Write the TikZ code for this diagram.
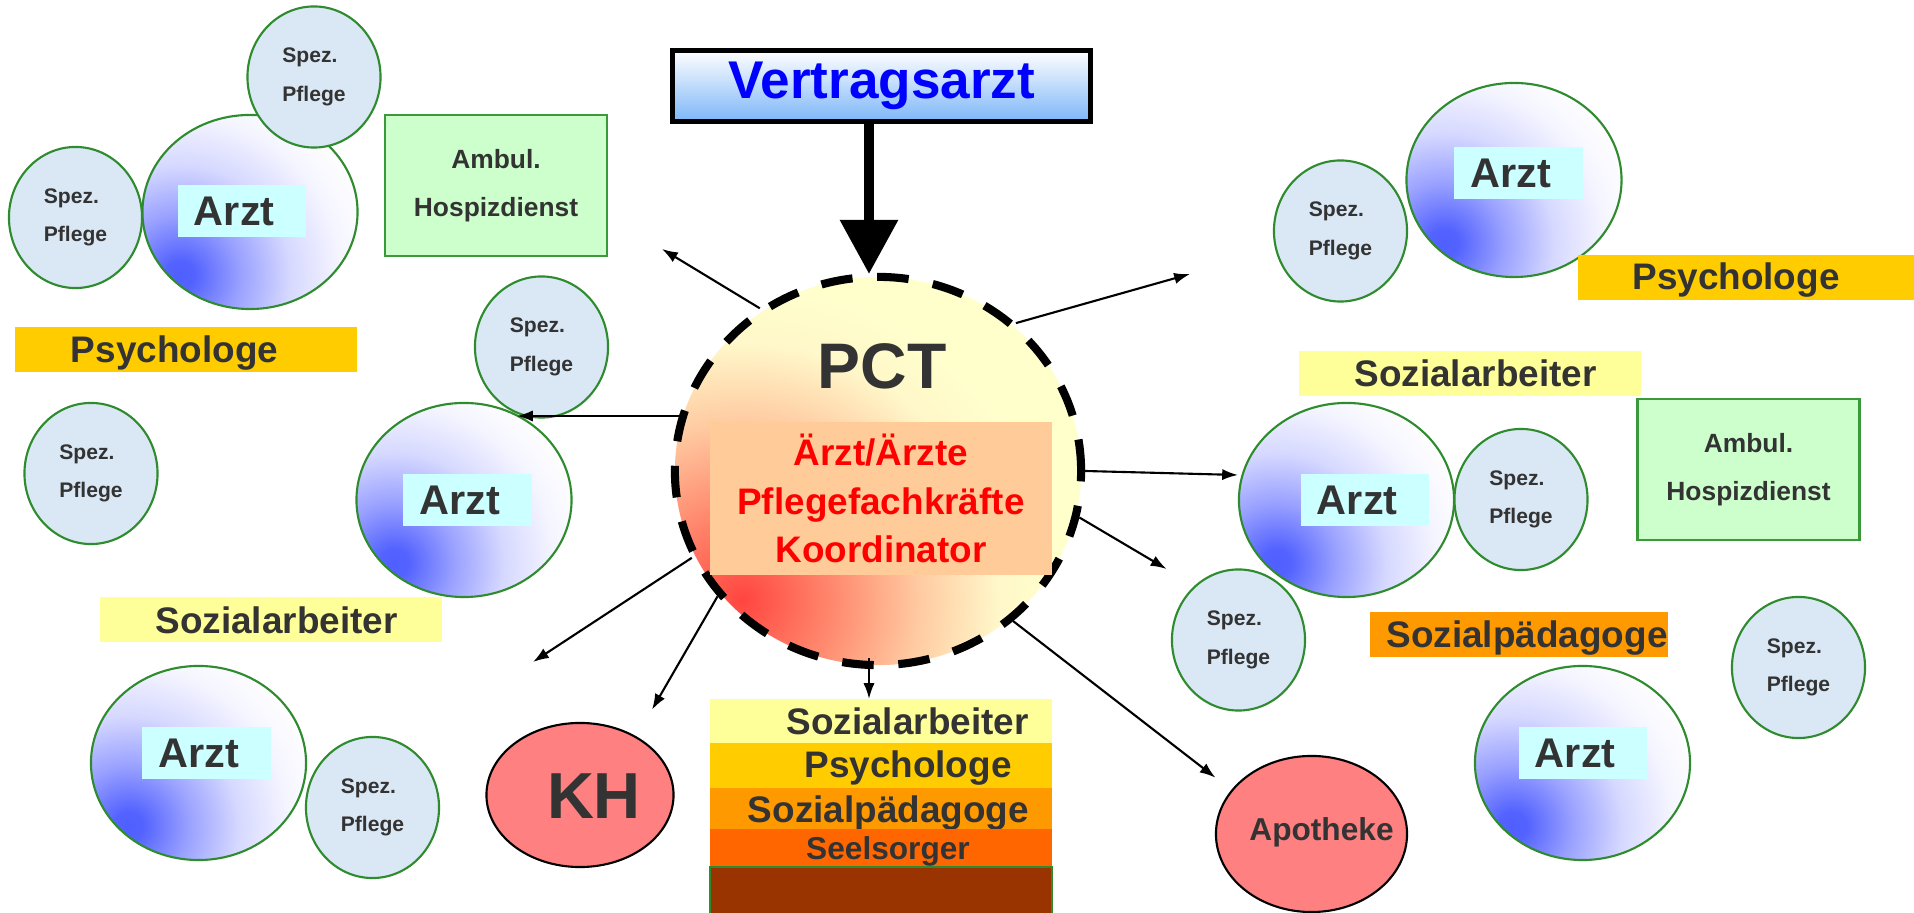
\documentclass[tikz,border=0pt]{standalone}
\usepackage{fontspec}
\setmainfont{Liberation Sans}
\usetikzlibrary{shapes.geometric, arrows.meta, calc}
\definecolor{txt}{HTML}{333333}
\definecolor{grn}{HTML}{2E8B2E}
\definecolor{spezfill}{HTML}{DAE7F4}
\definecolor{cyanlab}{HTML}{CCFFFF}
\definecolor{ambfill}{HTML}{CCFFCC}
\definecolor{ambline}{HTML}{3A9A3A}
\definecolor{psy}{HTML}{FFCC00}
\definecolor{soz}{HTML}{FFFF99}
\definecolor{spaed}{HTML}{FF9900}
\definecolor{seel}{HTML}{FF6600}
\definecolor{brownbar}{HTML}{993300}
\definecolor{redfill}{HTML}{FF8080}
\definecolor{peach}{HTML}{FFCC99}
\definecolor{vblue}{HTML}{7DB6F8}
\definecolor{vtext}{HTML}{0000FF}
\definecolor{redtext}{HTML}{FF0000}
\pgfdeclareradialshading{arztshade}{\pgfpoint{0bp}{0bp}}{rgb(0bp)=(0.31,0.37,1); rgb(1.25bp)=(0.33,0.39,1); rgb(5bp)=(0.60,0.63,1); rgb(9.2bp)=(0.84,0.85,1); rgb(13.3bp)=(0.96,0.96,1); rgb(16.7bp)=(1,1,1); rgb(50bp)=(1,1,1)}
\pgfdeclareradialshading{pctshade}{\pgfpoint{0bp}{0bp}}{rgb(0bp)=(1,0.27,0.25); rgb(4.8bp)=(1,0.55,0.44); rgb(8.8bp)=(1,0.79,0.63); rgb(12.8bp)=(1,0.97,0.79); rgb(16bp)=(1,1,0.8); rgb(50bp)=(1,1,0.8)}
\newcommand\fs[2]{\fontsize{#1}{#2}\selectfont\bfseries}
\tikzset{
  spez/.style={ellipse, draw=grn, line width=0.6pt, fill=spezfill, minimum width=1.33cm, minimum height=1.41cm, inner sep=0pt, align=left, font=\fs{6}{10.9}, text=txt},
  arztc/.style={ellipse, draw=grn, line width=0.6pt, minimum width=2.15cm, minimum height=1.94cm, inner sep=0pt,
    path picture={\shade[shading=arztshade] ($(path picture bounding box.center)+(-0.70cm,-0.63cm)$) circle (3cm);}},
  arztlab/.style={rectangle, fill=cyanlab, minimum width=1.28cm, minimum height=0.52cm, text width=0.96cm, inner xsep=0.16cm, inner ysep=0pt, align=left, font=\fs{11.8}{12}, text=txt},
  bar/.style={rectangle, minimum width=3.42cm, minimum height=0.45cm, inner sep=0pt},
  btext/.style={anchor=base, font=\fs{10.5}{12}, text=txt, inner sep=0pt},
  ambul/.style={rectangle, draw=ambline, line width=0.7pt, fill=ambfill, minimum width=2.22cm, minimum height=1.41cm, align=center, font=\fs{7.5}{13.7}, text=txt},
  redell/.style={ellipse, draw=black, line width=0.6pt, fill=redfill, inner sep=0pt},
  arr/.style={-{Latex[length=4.5pt,width=3.2pt]}, line width=0.6pt},
  pctnode/.style={ellipse, minimum width=4.06cm, minimum height=3.88cm, inner sep=0pt, draw=black, line width=2.3pt, dash pattern=on 9pt off 7pt,
    path picture={\shade[shading=pctshade] ($(path picture bounding box.center)+(-1.36cm,-1.29cm)$) circle (5cm);}},
}
\begin{document}
\begin{tikzpicture}[x=0.01cm, y=-0.01cm]
\fill[white] (0,0) rectangle (1914,913);
\useasboundingbox (0,0) rectangle (1914,913);

% Arzt circles
\node[arztc] (a1) at (250,212) {};
\node[arztc] (a2) at (464,500) {};
\node[arztc] (a3) at (1514,180) {};
\node[arztc] (a4) at (1346.5,500) {};
\node[arztc] (a5) at (198.5,763) {};
\node[arztc] (a6) at (1582.5,763) {};

% Arzt labels
\node[arztlab] (l1) at (242,211) {Arzt};
\node[arztlab] (l2) at (467.5,500) {Arzt};
\node[arztlab] (l3) at (1518.5,173) {Arzt};
\node[arztlab] (l4) at (1365,500) {Arzt};
\node[arztlab] (l5) at (206.5,753) {Arzt};
\node[arztlab] (l6) at (1583,753) {Arzt};

% Spez. Pflege circles
\node[spez] (sp1) at (314,77) {Spez.\\Pflege};
\node[spez] (sp2) at (75.5,217.5) {Spez.\\Pflege};
\node[spez] (sp3) at (541.5,347) {Spez.\\Pflege};
\node[spez] (sp4) at (91,473.5) {Spez.\\Pflege};
\node[spez] (sp5) at (372.5,807.5) {Spez.\\Pflege};
\node[spez] (sp6) at (1340.5,231) {Spez.\\Pflege};
\node[spez] (sp7) at (1521,499.5) {Spez.\\Pflege};
\node[spez] (sp8) at (1238.5,640) {Spez.\\Pflege};
\node[spez] (sp9) at (1798.5,667.5) {Spez.\\Pflege};

% Ambulanter Hospizdienst
\node[ambul] (amb1) at (496,185.5) {Ambul.\\Hospizdienst};
\node[ambul] (amb2) at (1748.5,469.5) {Ambul.\\Hospizdienst};

% coloured bars
\node[bar, fill=psy] (psyL) at (186,349.5) {};
\node[btext] (psyLt) at (174.5,363) {Psychologe};
\node[bar, fill=soz] (sozL) at (271,619.5) {};
\node[btext] (sozLt) at (276.5,634) {Sozialarbeiter};
\node[bar, fill=psy] (psyR) at (1749,277.5) {};
\node[btext] (psyRt) at (1736,290) {Psychologe};
\node[bar, fill=soz] (sozR) at (1470,373.5) {};
\node[btext] (sozRt) at (1475.5,387) {Sozialarbeiter};
\node[bar, fill=spaed, minimum width=2.98cm] (spR) at (1519,634.5) {};
\node[btext] (spRt) at (1527,648) {Sozialpädagoge};

% stack below PCT
\node[bar, fill=soz, minimum height=0.44cm] (st1) at (881,721) {};
\node[btext] (st1t) at (907.5,735) {Sozialarbeiter};
\node[bar, fill=psy] (st2) at (881,765.5) {};
\node[btext] (st2t) at (908,778) {Psychologe};
\node[bar, fill=spaed, minimum height=0.41cm] (st3) at (881,808.5) {};
\node[btext] (st3t) at (888.5,823) {Sozialpädagoge};
\node[bar, fill=seel, minimum height=0.38cm] (st4) at (881,848) {};
\node[btext, font=\fs{9}{10}] (st4t) at (888,860) {Seelsorger};
\node[bar, fill=brownbar, draw=grn, line width=0.6pt, minimum height=0.6cm] (st5) at (881,897) {};

% KH and Apotheke
\node[redell, minimum width=1.87cm, minimum height=1.44cm] (kh) at (580,795) {};
\node[btext, font=\fs{18.5}{20}] (kht) at (594,819) {KH};
\node[redell, minimum width=1.91cm, minimum height=1.56cm] (apo) at (1311.5,834) {};
\node[btext, font=\fs{9}{10}] (apot) at (1321.5,841) {Apotheke};

% PCT
\node[pctnode] (pct) at (878,471) {};
\node[anchor=base, font=\fs{18.3}{20}, text=txt, inner sep=0pt] (pcttxt) at (882,389) {PCT};
\node[rectangle, fill=peach, minimum width=3.42cm, minimum height=1.43cm, align=center, font=\fs{10.5}{13.8}, text=redtext] (pctbox) at (881,498.5) {Ärzt/Ärzte\\Pflegefachkräfte\\Koordinator};

% Vertragsarzt
\node[rectangle, draw=black, line width=1.42pt, top color=white, bottom color=vblue, minimum width=4.18cm, minimum height=0.71cm, inner sep=0pt, font=\fs{15.1}{16}, text=vtext] (vert) at (881.5,86) {Vertragsarzt};
\coordinate (vtip) at (869,274);
\draw[line width=2.85pt, -{Triangle[length=15.4pt,width=15.9pt]}] (vert.south -| vtip) -- (vtip);

% arrows from PCT
\coordinate (e1) at (662,249);
\coordinate (e2) at (1190,274);
\coordinate (e3) at (517,416);
\coordinate (e4) at (1238,475);
\coordinate (e5) at (1166.5,569);
\coordinate (e6) at (1215.5,777.7);
\coordinate (e7) at (869,699);
\coordinate (e8) at (652,709.7);
\coordinate (e9) at (533,662);
\draw[arr] (pct.126) -- (e1);
\draw[arr] (pct.47.7) -- (e2);
\draw[arr] (pct.165 |- e3) -- (e3);
\draw[arr] (pct.0) -- (e4);
\draw[arr] (pct.-13) -- (e5);
\draw[arr] (pct.-48.8) -- (e6);
\draw[arr] (pct.south -| e7) ++(0,-11) -- (e7);
\draw[arr] (pct.218.4) -- (e8);
\draw[arr] (pct.205.7) -- (e9);
\end{tikzpicture}
\end{document}
